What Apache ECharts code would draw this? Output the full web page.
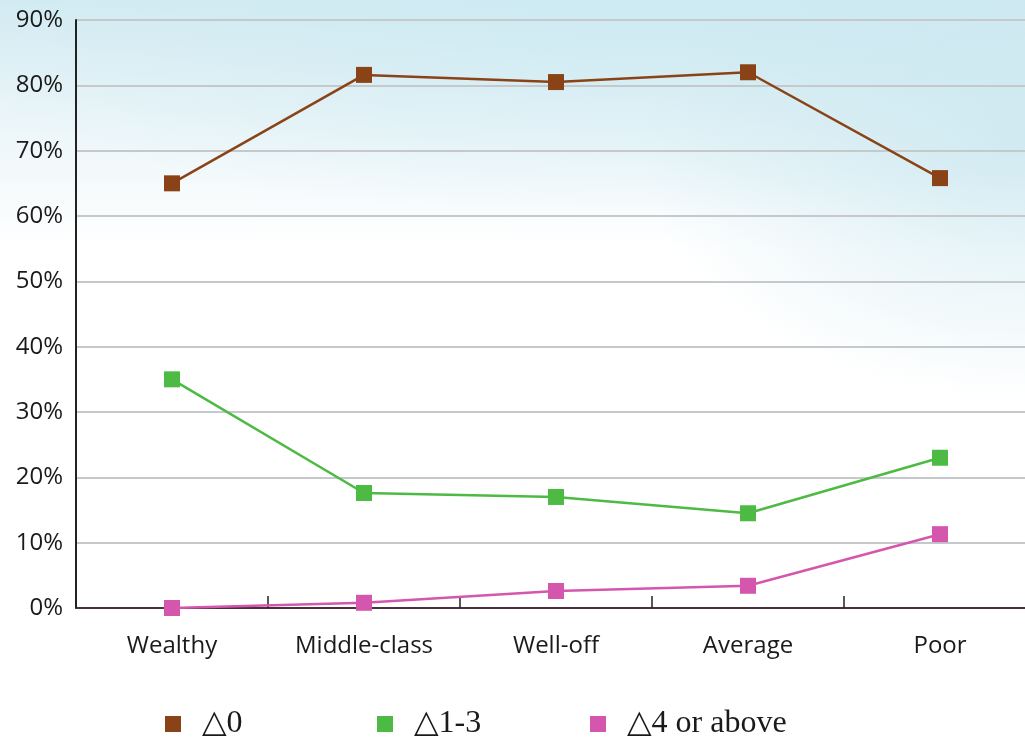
<!DOCTYPE html>
<html>
<head>
<meta charset="utf-8">
<script src="https://cdn.jsdelivr.net/npm/echarts@6/dist/echarts.min.js"></script>
<style>
  html, body { margin: 0; padding: 0; }
  body {
    width: 1025px; height: 740px; overflow: hidden;
    background:
      radial-gradient(ellipse 380px 260px at 1020px 140px, rgba(200,230,239,0.75), rgba(200,230,239,0) 100%),
      radial-gradient(ellipse 760px 220px at 650px 0px, rgba(205,234,242,0.9), rgba(205,234,242,0) 100%),
      linear-gradient(to bottom, #d3ebf2 0px, #e8f4f8 100px, #ffffff 250px, #ffffff 740px);
  }
  /* the plot runs past the right edge of the page */
  #chart { width: 1047px; height: 740px; }
</style>
</head>
<body>
<div id="chart"></div>
<script>
// Household class categories along the x axis
const categories = ['Wealthy', 'Middle-class', 'Well-off', 'Average', 'Poor'];
// Share of households (percent) in each group
const seriesZero = [65.0, 81.6, 80.5, 82.0, 65.8];
const seriesOneToThree = [35.0, 17.6, 17.0, 14.5, 23.0];
const seriesFourPlus = [0.0, 0.8, 2.6, 3.4, 11.3];
const seriesNames = ['\u25B30', '\u25B31-3', '\u25B34 or above'];
const seriesColors = ['#8a4317', '#4dba44', '#d456ad'];
// y axis ticks: 0% to 90% by 10
const yMin = 0, yMax = 90, yStep = 10;

const chart = echarts.init(document.getElementById('chart'));

const legendText = {
  fontFamily: '"Liberation Serif", "DejaVu Serif", serif',
  fontSize: 32,
  color: '#1a1a1a',
  padding: [0, 0, 0, 16]
};
function makeLegend(name, left) {
  return {
    data: [name], left: left, top: 708, padding: 0,
    icon: 'rect', itemWidth: 16, itemHeight: 16,
    textStyle: legendText
  };
}

function makeSeries(name, data, color) {
  return {
    name: name, type: 'line', data: data,
    symbol: 'rect', symbolSize: 16,
    lineStyle: { color: color, width: 2.5 },
    itemStyle: { color: color },
    z: 5
  };
}

chart.setOption({
  backgroundColor: 'transparent',
  animation: false,
  grid: { left: 76, top: 20, right: 11, bottom: 132, containLabel: false },
  legend: [
    makeLegend(seriesNames[0], 165),
    makeLegend(seriesNames[1], 377),
    makeLegend(seriesNames[2], 590)
  ],
  xAxis: {
    type: 'category',
    data: categories,
    boundaryGap: true,
    axisLine: { lineStyle: { color: '#4b3040', width: 2 } },
    axisTick: { show: true, inside: true, length: 12, lineStyle: { color: '#222', width: 1.5 } },
    axisLabel: {
      margin: 26,
      fontFamily: '"Open Sans", "Noto Sans", sans-serif',
      fontSize: 24, color: '#1a1a1a'
    }
  },
  yAxis: {
    type: 'value',
    min: yMin, max: yMax, interval: yStep,
    axisLine: { show: true, lineStyle: { color: '#222', width: 2 } },
    axisTick: { show: false },
    splitLine: { lineStyle: { color: '#c6c9cc', width: 2 } },
    axisLabel: {
      margin: 13,
      formatter: '{value}%',
      fontFamily: '"Open Sans", "Noto Sans", sans-serif',
      fontSize: 24, color: '#1a1a1a'
    }
  },
  series: [
    makeSeries(seriesNames[0], seriesZero, seriesColors[0]),
    makeSeries(seriesNames[1], seriesOneToThree, seriesColors[1]),
    makeSeries(seriesNames[2], seriesFourPlus, seriesColors[2])
  ]
});
</script>
</body>
</html>
